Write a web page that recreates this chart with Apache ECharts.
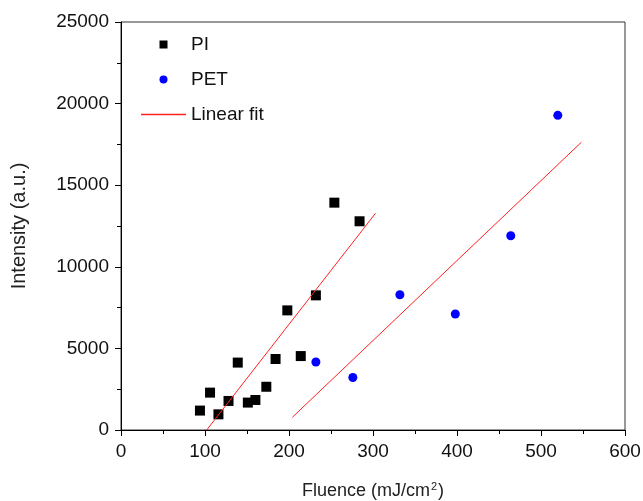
<!DOCTYPE html>
<html>
<head>
<meta charset="utf-8">
<script src="https://cdn.jsdelivr.net/npm/echarts@6/dist/echarts.min.js"></script>
<style>
  html, body { margin: 0; padding: 0; background: #fff; }
  #chart { width: 643px; height: 501px; }
</style>
</head>
<body>
<div id="chart"></div>
<script>
  // PI samples (black squares)
  const piX = [94, 106, 116, 128, 139, 151, 160, 173, 184, 198, 214, 232, 254, 284];
  const piY = [1190, 2290, 960, 1780, 4130, 1680, 1840, 2650, 4350, 7330, 4530, 8250, 13930, 12790];
  // PET samples (blue dots)
  const petX = [232, 276, 332, 398, 464, 520];
  const petY = [4170, 3220, 8290, 7110, 11900, 19280];
  // linear fit end points
  const piFitX = [102, 303];
  const piFitY = [0, 13280];
  const petFitX = [204, 548];
  const petFitY = [780, 17630];

  const xTicks = [0, 100, 200, 300, 400, 500, 600];
  const yTicks = [0, 5000, 10000, 15000, 20000, 25000];

  const pairs = (xs, ys) => xs.map((x, i) => [x, ys[i]]);

  const labelFont = 'Liberation Sans, Arial, sans-serif';
  const myChart = echarts.init(document.getElementById('chart'));

  const option = {
    animation: false,
    backgroundColor: '#fff',
    grid: {
      left: 121, right: 18, top: 22, bottom: 71,
      outerBoundsMode: 'none',
      containLabel: false,
      show: true, borderColor: '#333', borderWidth: 1
    },
    legend: {
      orient: 'vertical',
      left: 136,
      top: 30,
      itemWidth: 45,
      itemHeight: 8,
      itemGap: 16,
      data: [
        { name: 'PI', icon: 'path://M0,0H1V1H0Z' },
        { name: 'PET', icon: 'circle' },
        { name: 'Linear fit', icon: 'path://M0,0H45V1.3H0Z' }
      ],
      textStyle: { fontFamily: labelFont, fontSize: 19, color: '#111' }
    },
    xAxis: {
      type: 'value',
      min: xTicks[0],
      max: xTicks[xTicks.length - 1],
      interval: 100,
      name: '{a|Fluence (mJ/cm}{s|2}{a|)}',
      nameLocation: 'middle',
      nameGap: 51,
      nameTextStyle: {
        rich: {
          a: { fontFamily: labelFont, fontSize: 18, color: '#222' },
          s: { fontFamily: labelFont, fontSize: 11, color: '#222', padding: [0, 1, 9, 1] }
        }
      },
      splitLine: { show: false },
      axisLine: { lineStyle: { color: '#000', width: 1 } },
      axisTick: { length: 6, lineStyle: { color: '#000' } },
      minorTick: { show: true, splitNumber: 2, length: 4, lineStyle: { color: '#000' } },
      axisLabel: { margin: 12, fontFamily: labelFont, fontSize: 19, color: '#111' }
    },
    yAxis: {
      type: 'value',
      min: yTicks[0],
      max: yTicks[yTicks.length - 1],
      interval: 5000,
      name: 'Intensity (a.u.)',
      nameLocation: 'middle',
      nameGap: 92,
      nameTextStyle: { fontFamily: labelFont, fontSize: 20, color: '#222' },
      splitLine: { show: false },
      axisLine: { show: true, lineStyle: { color: '#000', width: 1 } },
      axisTick: { show: true, length: 6, lineStyle: { color: '#000' } },
      minorTick: { show: true, splitNumber: 2, length: 4, lineStyle: { color: '#000' } },
      axisLabel: {
        margin: 12, fontFamily: labelFont, fontSize: 19, color: '#111',
        formatter: v => String(v)
      }
    },
    series: [
      {
        name: 'PI',
        type: 'scatter',
        symbol: 'rect',
        symbolSize: 10,
        itemStyle: { color: '#000', opacity: 1 },
        data: pairs(piX, piY)
      },
      {
        name: 'PET',
        type: 'scatter',
        symbol: 'circle',
        symbolSize: 9,
        itemStyle: { color: '#0000ff', opacity: 1 },
        data: pairs(petX, petY)
      },
      {
        name: 'Linear fit',
        type: 'line',
        symbol: 'none',
        lineStyle: { color: '#ff2020', width: 1 },
        itemStyle: { color: '#ff2020' },
        data: pairs(piFitX, piFitY)
      },
      {
        name: 'Linear fit',
        type: 'line',
        symbol: 'none',
        lineStyle: { color: '#ff2020', width: 1 },
        itemStyle: { color: '#ff2020' },
        data: pairs(petFitX, petFitY)
      }
    ]
  };
  myChart.setOption(option);
</script>
</body>
</html>
